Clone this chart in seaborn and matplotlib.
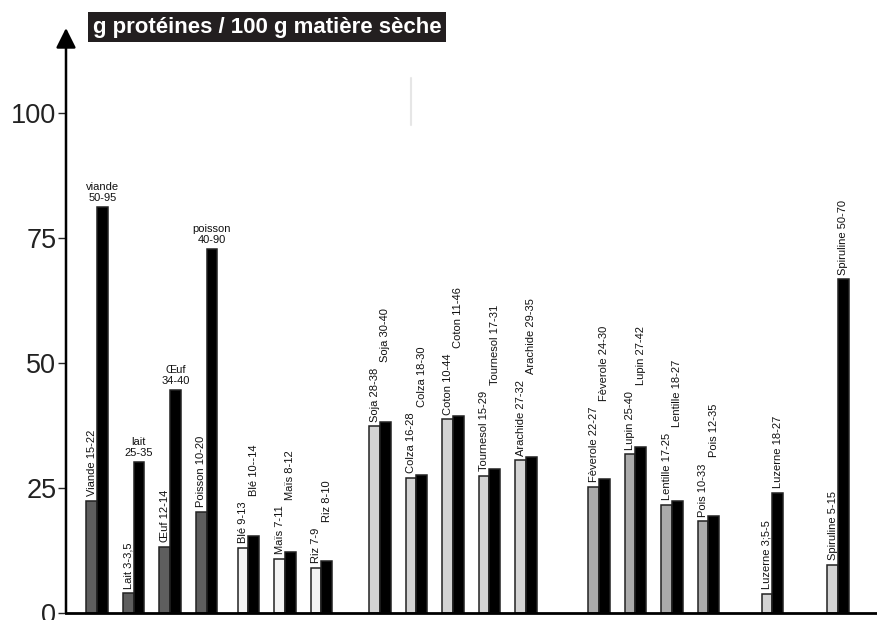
import numpy as np
import pandas as pd
import matplotlib
matplotlib.use('Agg')
import matplotlib.pyplot as plt
import seaborn as sns

aliments = ['Viande', 'Lait', 'Œuf', 'Poisson', 'Blé', 'Maïs', 'Riz',
            'Soja', 'Colza', 'Coton', 'Tournesol', 'Arachide',
            'Fèverole', 'Lupin', 'Lentille', 'Pois', 'Luzerne', 'Spiruline']
familles = ['animal'] * 4 + ['cereale'] * 3 + ['oleagineux'] * 5 + \
           ['legumineuse'] * 4 + ['fourrage', 'algue']

# teneur basse / haute (g proteines pour 100 g MS)
val_bas = [22.5, 4.0, 13.3, 20.3, 13.1, 10.9, 9.1,
           37.4, 27.1, 38.7, 27.5, 30.6,
           25.3, 31.8, 21.7, 18.4, 3.9, 9.7]
val_haut = [81.1, 30.2, 44.6, 72.7, 15.4, 12.3, 10.5,
            38.3, 27.7, 39.4, 28.9, 31.3,
            26.9, 33.3, 22.5, 19.5, 24.1, 66.7]

etiq_bas = ['Viande 15-22', 'Lait 3-3,5', 'Œuf 12-14', 'Poisson 10-20',
            'Blé 9-13', 'Maïs 7-11', 'Riz 7-9',
            'Soja 28-38', 'Colza 16-28', 'Coton 10-44', 'Tournesol 15-29', 'Arachide 27-32',
            'Fèverole 22-27', 'Lupin 25-40', 'Lentille 17-25', 'Pois 10-33',
            'Luzerne 3;5-5', 'Spiruline 5-15']
etiq_haut = ['viande\n50-95', 'lait\n25-35', 'Œuf\n34-40', 'poisson\n40-90',
             'Blé 10--14', 'Maïs 8-12', 'Riz 8-10',
             'Soja 30-40', 'Colza 18-30', 'Coton 11-46', 'Tournesol 17-31', 'Arachide 29-35',
             'Fèverole 24-30', 'Lupin 27-42', 'Lentille 18-27', 'Pois 12-35',
             'Luzerne 18-27', 'Spiruline 50-70']

y_ticks = [0, 25, 50, 75, 100]
titre = 'g protéines / 100 g matière sèche'

# mise en page
ecart_famille = {'cereale': 0.15, 'oleagineux': 0.6, 'legumineuse': 1.0,
                 'fourrage': 0.75, 'algue': 0.8}
largeur = 0.293
palette = {'animal': '#5e5e5e', 'cereale': '#f3f3f3', 'oleagineux': '#d3d3d3',
           'legumineuse': '#ababab', 'fourrage': '#d3d3d3', 'algue': '#d3d3d3',
           'haut': '#000000'}

centres = []
pos = 0.0
for i, fam in enumerate(familles):
    if i > 0:
        pos += 1
        if fam != familles[i - 1]:
            pos += ecart_famille[fam]
    centres.append(pos)
centres = np.array(centres)
x_bas = centres - largeur / 2
x_haut = centres + largeur / 2

df = pd.DataFrame({
    'x': np.concatenate([x_bas, x_haut]),
    'valeur': val_bas + val_haut,
    'teinte': familles + ['haut'] * len(aliments),
})

sns.set_style('white')
plt.rcParams['font.family'] = ['Liberation Sans', 'DejaVu Sans']

fig = plt.figure(figsize=(8.78, 6.2), dpi=100)
ax = fig.add_axes([66 / 878, 7 / 620, 812 / 878, 585 / 620])

sns.barplot(data=df, x='x', y='valeur', hue='teinte', palette=palette,
            native_scale=True, width=1.0, dodge=False, errorbar=None,
            edgecolor='#222222', linewidth=1.1, legend=False, ax=ax)

ax.set_xlim(-0.85, -0.85 + 812 / 36.5)
ax.set_ylim(0, 117)
ax.set_xticks([])
ax.set_yticks(y_ticks)
ax.set_yticklabels([str(t) for t in y_ticks], fontsize=19.5, color='#222222')
ax.tick_params(axis='y', direction='out', length=6, width=1, pad=1, left=True)
ax.set_xlabel('')
ax.set_ylabel('')
for s in ['top', 'right', 'left']:
    ax.spines[s].set_visible(False)
ax.spines['bottom'].set_linewidth(2)
ax.spines['bottom'].set_color('black')

# axe vertical avec fleche
ax.annotate('', xy=(0, 1.0), xytext=(0, 0), xycoords='axes fraction',
            arrowprops=dict(arrowstyle='-|>,head_length=0.6,head_width=0.3',
                            lw=1.8, color='black', mutation_scale=20,
                            shrinkA=0, shrinkB=0), annotation_clip=False)

txt_kw = dict(fontsize=8, color='#111111')
textes_bas = []
for xb, v, t in zip(x_bas, val_bas, etiq_bas):
    tb = ax.annotate(t, xy=(xb, v), xytext=(0, 3), textcoords='offset points',
                     rotation=90, ha='center', va='bottom', **txt_kw)
    textes_bas.append(tb)

fig.canvas.draw()
renderer = fig.canvas.get_renderer()
inv = ax.transData.inverted()
for tb, xh, v, t, fam in zip(textes_bas, x_haut, val_haut, etiq_haut, familles):
    if fam == 'animal':
        ax.annotate(t, xy=(xh, v), xytext=(0, 3), textcoords='offset points',
                    ha='center', va='bottom', linespacing=1.15, **txt_kw)
        continue
    bb = tb.get_window_extent(renderer)
    haut_barre = ax.transData.transform((xh, v))[1] + 4
    y_disp = max(bb.y1 + 6, haut_barre)
    y_data = inv.transform((0, y_disp))[1]
    ax.text(xh, y_data, t, rotation=90, ha='center', va='bottom', **txt_kw)

fig.text((86 + 448) / 2 / 878, 1 - 27 / 620, titre, ha='center', va='center',
         color='white', fontsize=16, fontweight='bold',
         bbox=dict(boxstyle='square,pad=0.2', fc='#231f20', ec='none'))

fig.add_artist(plt.Line2D([411 / 878, 411 / 878], [1 - 78 / 620, 1 - 125 / 620],
                          color='#e6e6e6', lw=1.5))

plt.savefig('out.png', dpi=100)
